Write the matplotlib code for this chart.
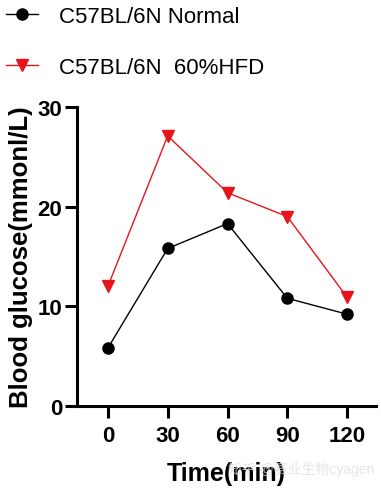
import matplotlib.pyplot as plt

# data
time_min = [0, 30, 60, 90, 120]
normal = [5.8, 15.8, 18.3, 10.8, 9.2]
hfd = [12.0, 27.1, 21.4, 19.0, 10.9]
labels = ['C57BL/6N Normal', 'C57BL/6N  60%HFD']

plt.rcParams['font.family'] = ['Liberation Sans', 'Noto Sans CJK SC', 'DejaVu Sans']

fig = plt.figure(figsize=(3.81, 4.89), dpi=100)
ax = fig.add_axes([0.202, 0.168, 0.785, 0.611])

ax.plot(time_min, normal, color='black', lw=1.0, marker='o', ms=8,
        label=labels[0], clip_on=False)
ax.plot(time_min, hfd, color='#e8141c', lw=1.0, marker='v', ms=9,
        mfc='#e8141c', mec='#e8141c', label=labels[1], clip_on=False)

ax.set_xlim(-15.5, 134.5)
ax.set_ylim(0, 30)
ax.set_xticks(time_min)
ax.set_yticks([0, 10, 20, 30])

for s in ['top', 'right']:
    ax.spines[s].set_visible(False)
for s in ['left', 'bottom']:
    ax.spines[s].set_linewidth(2.2)

ax.tick_params(axis='both', width=2.2, length=8.5, labelsize=16)
ax.tick_params(axis='y', pad=2)
ax.tick_params(axis='x', pad=5)
for lab in ax.get_xticklabels() + ax.get_yticklabels():
    lab.set_fontweight('bold')

ax.set_ylabel('Blood glucose(mmonl/L)', fontsize=18.5, fontweight='bold', labelpad=3)
ax.set_xlabel('Time(min)', fontsize=18, fontweight='bold', labelpad=11)

fig.legend(loc='upper left', bbox_to_anchor=(0.0, 0.997), frameon=False,
           fontsize=16, handlelength=1.45, labelspacing=1.35, handletextpad=0.95,
           borderaxespad=0.0, borderpad=0.25)

# faint watermark as in the source image
fig.text(0.79, 0.04, '知乎 @赛业生物cyagen', fontsize=10, color='#dedede',
         ha='center', va='center', alpha=0.8)

fig.savefig('out.png', dpi=100)
